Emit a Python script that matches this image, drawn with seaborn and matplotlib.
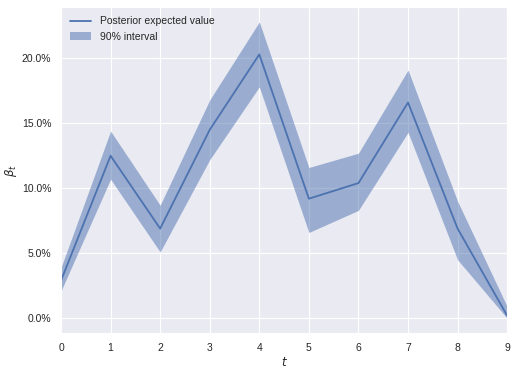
import matplotlib
matplotlib.use("Agg")
import matplotlib.pyplot as plt
import matplotlib.ticker as mtick
import seaborn as sns
import pandas as pd

# Posterior summary per time step (as fractions)
t = [0, 1, 2, 3, 4, 5, 6, 7, 8, 9]
mean = [0.029, 0.125, 0.069, 0.145, 0.203, 0.092, 0.104, 0.166, 0.069, 0.002]
lower = [0.021, 0.107, 0.051, 0.122, 0.178, 0.066, 0.083, 0.143, 0.045, 0.000]
upper = [0.039, 0.144, 0.087, 0.168, 0.228, 0.116, 0.127, 0.191, 0.090, 0.009]

df = pd.DataFrame({"t": t, "mean": mean, "lower": lower, "upper": upper})

sns.set_style("darkgrid")
plt.rcParams['font.family'] = ['Liberation Sans', 'DejaVu Sans']
plt.rcParams['font.size'] = 7.5

fig = plt.figure(figsize=(5.17, 3.73), dpi=100)
ax = fig.add_axes([0.118, 0.107, 0.863, 0.874])

blue = sns.color_palette("deep")[0]
sns.lineplot(data=df, x="t", y="mean", color=blue, lw=1.3, ax=ax,
             label="Posterior expected value")
ax.fill_between(df["t"], df["lower"], df["upper"], color=blue, alpha=0.5,
                lw=0, label="90% interval")

ax.set_xlim(0, 9)
ax.set_xticks(t)
ax.yaxis.set_major_formatter(mtick.PercentFormatter(1.0, decimals=1))
ax.set_xlabel("$t$", fontsize=8.5, labelpad=2)
ax.set_ylabel(r"$\beta_t$", fontsize=8.5)
ax.yaxis.set_label_coords(-0.095, 0.5)
ax.tick_params(labelsize=7.5, colors="#262626")
ax.legend(loc="upper left", frameon=False, fontsize=7.5)

fig.savefig("out.png", dpi=100)
